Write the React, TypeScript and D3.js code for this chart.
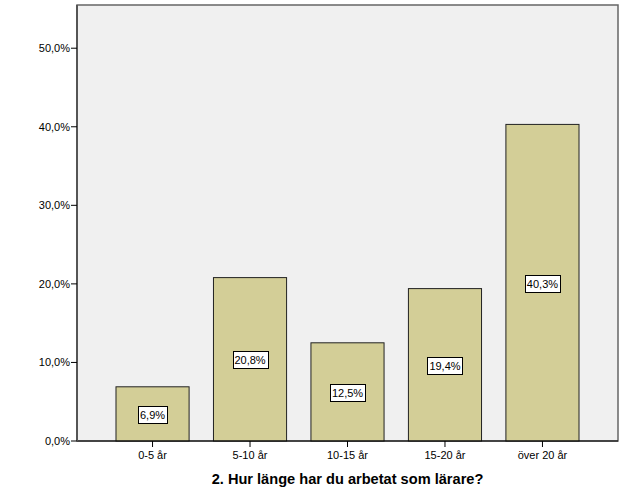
import React from "react";
import * as d3 from "d3";

const categories = ["0-5 år", "5-10 år", "10-15 år", "15-20 år", "över 20 år"];
const values = [6.9, 20.8, 12.5, 19.4, 40.3];
const yTicks = [0, 10, 20, 30, 40, 50];
const title = "2. Hur länge har du arbetat som lärare?";

const W = 626, H = 501;
const L = 77, R = 618, T = 5, B = 441;
const font = "Arial, 'Liberation Sans', sans-serif";
const fmt = (v: number) => v.toFixed(1).replace(".", ",") + "%";

export default function App() {
  const x = d3.scaleBand<string>().domain(categories).range([L, R]).paddingInner(0.25).paddingOuter(0.4);
  const y = d3.scaleLinear().domain([0, 55.5]).range([B, T]);
  return (
    <svg width={W} height={H} style={{ position: "absolute", left: 0, top: 0 }}>
      <rect x={0} y={0} width={W} height={H} fill="#fff" />
      <rect x={L} y={T} width={R - L} height={B - T} fill="#f0f0f0" stroke="#666" strokeWidth={1.5} />
      {categories.map((c, i) => {
        const x0 = x(c)!;
        const y0 = y(values[i]);
        const cx = x0 + x.bandwidth() / 2;
        const cy = (y0 + B) / 2;
        const label = fmt(values[i]);
        const bw = label.length * 6.2 + 4;
        return (
          <g key={c}>
            <rect x={x0} y={y0} width={x.bandwidth()} height={B - y0} fill="#d3ce97" stroke="#222" strokeWidth={1} />
            <rect x={Math.round(cx - bw / 2) + 0.5} y={Math.round(cy - 8) + 0.5} width={Math.round(bw)} height={17} fill="#fff" stroke="#000" strokeWidth={1} />
            <text x={cx} y={cy + 5} textAnchor="middle" fontFamily={font} fontSize={11} fill="#000">{label}</text>
            <line x1={cx} x2={cx} y1={B} y2={B + 6} stroke="#000" />
            <text x={cx} y={B + 18} textAnchor="middle" fontFamily={font} fontSize={11} fill="#000">{c}</text>
          </g>
        );
      })}
      <line x1={L} x2={R} y1={B} y2={B} stroke="#000" strokeWidth={1} />
      <line x1={L} x2={L} y1={T} y2={B} stroke="#555" strokeWidth={2} />
      {yTicks.map((t) => (
        <g key={t}>
          <line x1={L - 6} x2={L} y1={y(t)} y2={y(t)} stroke="#000" />
          <text x={L - 7} y={y(t) + 4} textAnchor="end" fontFamily={font} fontSize={11} fill="#000">{fmt(t)}</text>
        </g>
      ))}
      <text x={(L + R) / 2} y={484} textAnchor="middle" fontFamily={font} fontSize={14.6} fontWeight="bold" fill="#000">{title}</text>
    </svg>
  );
}
